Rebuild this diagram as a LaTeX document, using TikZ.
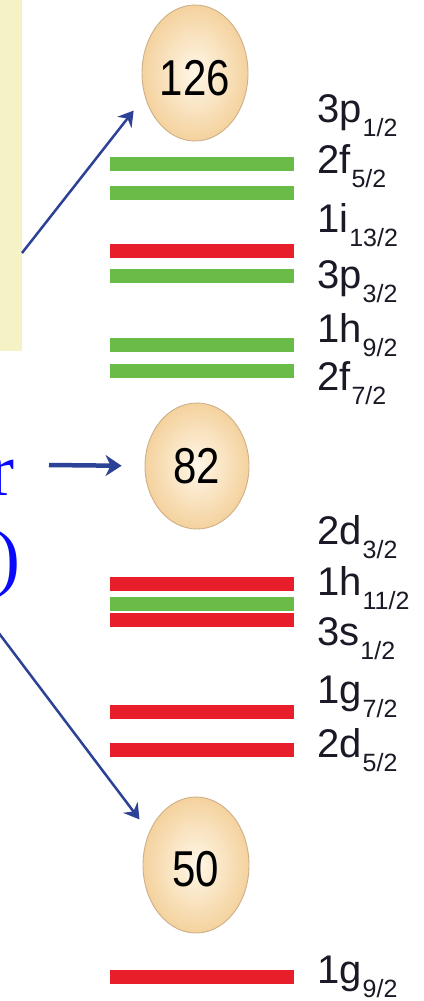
\documentclass[tikz,border=0pt]{standalone}
\usepackage{fontspec}
\setmainfont{Liberation Sans}
\newfontfamily\blueserif{Liberation Serif}
\usetikzlibrary{arrows.meta,shapes.geometric}

\definecolor{barred}{RGB}{232,30,42}
\definecolor{bargreen}{RGB}{106,188,72}
\definecolor{arrblue}{RGB}{44,66,150}
\definecolor{boxyellow}{RGB}{245,242,198}
\definecolor{labelink}{RGB}{28,24,38}
\definecolor{ballin}{RGB}{255,247,232}
\definecolor{ballout}{RGB}{244,210,158}
\definecolor{ballrim}{RGB}{206,176,136}
\definecolor{textblue}{RGB}{10,10,250}

\newcommand{\lvl}[2]{{\fontsize{40}{40}\selectfont #1}\kern1pt\raisebox{-14pt}{\fontsize{25}{25}\selectfont #2}}
\newcommand{\tallnum}[2]{\raisebox{#1}[\height][\depth]{\scalebox{1}[1.2]{#2}}}

\tikzset{
  ball/.style={ellipse, inner sep=0pt, draw=ballrim, line width=0.9pt,
    inner color=ballin, outer color=ballout, text=black,
    font=\fontsize{42}{42}\selectfont},
  levelbar/.style={line width=14pt},
  lab/.style={anchor=base west, inner sep=0pt, text=labelink},
  bluetxt/.style={anchor=base east, inner sep=0pt, text=textblue,
    font=\blueserif\fontsize{75}{75}\selectfont},
  arr/.style={draw=arrblue, line width=2.5pt,
    -{Stealth[length=15pt,width=18pt,inset=5pt]}},
  arrthick/.style={draw=arrblue, line width=4.5pt,
    -{Stealth[length=16pt,width=21pt,inset=5pt]}}
}

\begin{document}
\begin{tikzpicture}[x=1pt,y=-1pt]
\useasboundingbox (0,0) rectangle (423,1001);
\fill[white] (0,0) rectangle (423,1001);
\fill[boxyellow] (0,0) rectangle (22,351);

% magic-number balls
\node[ball, minimum width=106pt, minimum height=136pt] (c126) at (195,73) {\tallnum{-5pt}{126}};
\node[ball, minimum width=104pt, minimum height=126pt] (c82) at (197,466) {\tallnum{0pt}{82}};
\node[ball, minimum width=106pt, minimum height=136pt] (c50) at (196,865) {\tallnum{-4pt}{50}};

% level bars
\draw[levelbar, bargreen] (110,164) -- (294,164);
\draw[levelbar, bargreen] (110,193) -- (294,193);
\draw[levelbar, barred]   (110,251) -- (294,251);
\draw[levelbar, bargreen] (110,276) -- (294,276);
\draw[levelbar, bargreen] (110,345) -- (294,345);
\draw[levelbar, bargreen] (110,371) -- (294,371);
\draw[levelbar, barred]   (110,584) -- (294,584);
\draw[levelbar, bargreen] (110,604) -- (294,604);
\draw[levelbar, barred]   (110,620) -- (294,620);
\draw[levelbar, barred]   (110,712) -- (294,712);
\draw[levelbar, barred]   (110,750) -- (294,750);
\draw[levelbar, barred]   (110,977) -- (294,977);

% level labels
\node[lab] (l1)  at (317,122) {\lvl{3p}{1/2}};
\node[lab] (l2)  at (317,173) {\lvl{2f}{5/2}};
\node[lab] (l3)  at (317,232) {\lvl{1i}{13/2}};
\node[lab] (l4)  at (317,288) {\lvl{3p}{3/2}};
\node[lab] (l5)  at (317,342) {\lvl{1h}{9/2}};
\node[lab] (l6)  at (317,390) {\lvl{2f}{7/2}};
\node[lab] (l7)  at (317,544) {\lvl{2d}{3/2}};
\node[lab] (l8)  at (317,595) {\lvl{1h}{11/2}};
\node[lab] (l9)  at (317,645) {\lvl{3s}{1/2}};
\node[lab] (l10) at (317,703) {\lvl{1g}{7/2}};
\node[lab] (l11) at (317,757) {\lvl{2d}{5/2}};
\node[lab] (l12) at (317,983) {\lvl{1g}{9/2}};

% cut-off blue text at the left edge
\node[bluetxt] (tr) at (15,495) {r};
\node[bluetxt] (tp) at (21,582) {)};

% arrows
\coordinate (s1) at (22,253);
\coordinate (s2) at (49,465);
\coordinate (s3) at (-2,632);
\draw[arr, shorten >=18pt] (s1) -- (c126.205);
\draw[arrthick, shorten >=23pt] (s2) -- (c82.west);
\draw[arr, shorten >=16pt] (s3) -- (c50.145);
\end{tikzpicture}
\end{document}
